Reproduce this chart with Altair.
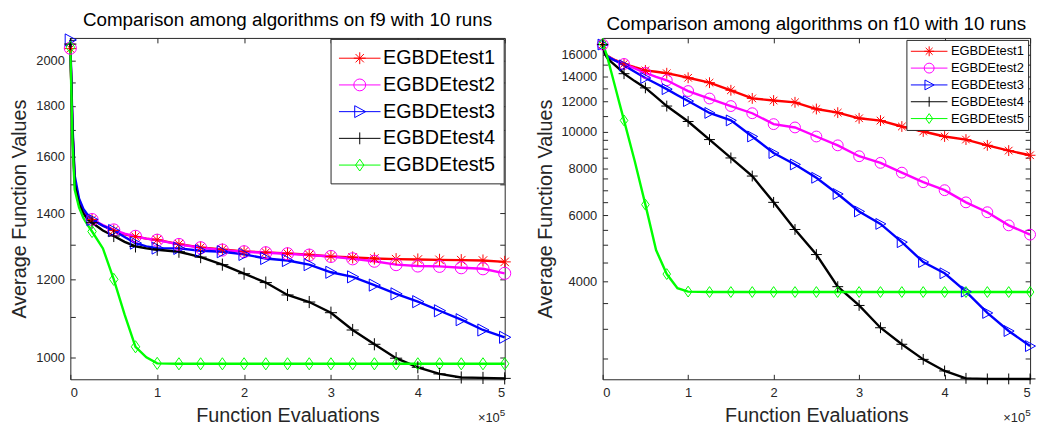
import altair as alt
import pandas as pd

# ---------------- data ----------------
X_EVALS = [0, 2500, 5000, 10000, 15000, 20000, 25000, 37500, 50000, 62500, 75000,
           87500, 100000, 125000, 150000, 175000, 200000, 225000, 250000, 275000,
           300000, 325000, 350000, 375000, 400000, 425000, 450000, 475000, 500000]

SERIES = ["EGBDEtest1", "EGBDEtest2", "EGBDEtest3", "EGBDEtest4", "EGBDEtest5"]
COLORS = ["#FF0000", "#FF00FF", "#0000FF", "#000000", "#00FF00"]

F9_TEST1 = [2058, 1700, 1510, 1440, 1410, 1392, 1380, 1360, 1345, 1333, 1326, 1320, 1316,
            1303, 1293, 1287, 1281, 1278, 1275, 1271, 1266, 1263, 1260, 1258, 1257, 1256,
            1255, 1254, 1250]
F9_TEST2 = [2060, 1700, 1510, 1440, 1410, 1392, 1380, 1362, 1347, 1335, 1327, 1320, 1315,
            1302, 1292, 1285, 1280, 1277, 1274, 1270, 1266, 1259, 1252, 1242, 1238, 1237,
            1233, 1230, 1217]
F9_TEST3 = [2100, 1720, 1530, 1450, 1415, 1395, 1380, 1360, 1345, 1325, 1306, 1296, 1291,
            1290, 1283, 1280, 1272, 1260, 1254, 1242, 1220, 1207, 1184, 1160, 1139, 1115,
            1092, 1066, 1048]
F9_TEST4 = [2080, 1690, 1500, 1430, 1400, 1380, 1370, 1345, 1328, 1310, 1296, 1290, 1286,
            1280, 1264, 1242, 1216, 1191, 1157, 1138, 1110, 1066, 1031, 998, 977, 962,
            954, 953, 952]
F9_TEST5 = [2065, 1650, 1480, 1420, 1385, 1362, 1342, 1290, 1200, 1105, 1025, 1000, 986,
            985, 985, 985, 985, 985, 985, 985, 985, 985, 985, 985, 985, 985, 985, 985, 985]

F10_TEST1 = [17000, 16200, 15900, 15650, 15450, 15280, 15110, 14800, 14520, 14400, 14270,
             14080, 13880, 13470, 12860, 12240, 12080, 11950, 11470, 11220, 10840, 10690,
             10310, 10000, 9700, 9520, 9190, 8900, 8650]
F10_TEST2 = [17000, 16150, 15850, 15600, 15400, 15250, 15100, 14700, 14300, 13950, 13670,
             13220, 12800, 12230, 11680, 11180, 10460, 10250, 9700, 9190, 8600, 8260, 7780,
             7340, 6990, 6490, 6110, 5640, 5330]
F10_TEST3 = [17000, 16150, 15850, 15600, 15400, 15200, 14970, 14400, 13860, 13400, 12950,
             12480, 12040, 11200, 10700, 9700, 8770, 8180, 7540, 6830, 6140, 5690, 5090,
             4510, 4210, 3765, 3305, 2960, 2700]
F10_TEST4 = [17000, 16100, 15700, 15300, 14950, 14600, 14230, 13600, 13050, 12350, 11680,
             11150, 10630, 9520, 8510, 7620, 6490, 5500, 4720, 3880, 3460, 3020, 2730, 2490,
             2320, 2218, 2210, 2210, 2210]
F10_TEST5 = [17100, 16500, 15880, 14400, 13040, 11800, 10700, 8350, 6400, 4850, 4190, 3845,
             3765, 3755, 3755, 3755, 3755, 3755, 3755, 3755, 3755, 3755, 3755, 3755, 3755,
             3755, 3755, 3755, 3755]

F9_YLABELS = [1000, 1200, 1400, 1600, 1800, 2000]
F9_YTICKS = [1000, 1100, 1200, 1300, 1400, 1500, 1600, 1700, 1800, 1900, 2000, 2100]
F10_YLABELS = [4000, 6000, 8000, 10000, 12000, 14000, 16000]
F10_YTICKS = [2500, 3000, 3500, 4000, 4500, 5000, 5500, 6000, 6500, 7000, 7500, 8000, 8500,
              9000, 9500, 10000, 11000, 12000, 13000, 14000, 15000, 16000, 17000]
X_TICKS = [0, 100000, 200000, 300000, 400000, 500000]

FONT = "Liberation Sans"
AX = "#262626"

# data-marker shapes (unit box -1..1)
MARKERS = [
    "M-1,0L1,0M0,-1L0,1M-0.7,-0.7L0.7,0.7M-0.7,0.7L0.7,-0.7",
    "circle",
    "M-0.85,-1L1,0L-0.85,1Z",
    "M-1,0L1,0M0,-1L0,1",
    "M0,-1L0.7,0L0,1L-0.7,0Z",
]


def legend_paths(L, m):
    """Legend symbols: a horizontal line of half-length L with the marker (half-size m)."""
    L = round(L, 3)
    m = round(m, 3)
    d = round(m * 0.7, 3)
    t = round(m * 0.85, 3)
    ln = f"M{-L},0L{L},0"
    return [
        f"{ln}M{-m},0L{m},0M0,{-m}L0,{m}M{-d},{-d}L{d},{d}M{-d},{d}L{d},{-d}",
        f"{ln}M{m},0A{m},{m},0,1,1,{-m},0A{m},{m},0,1,1,{m},0",
        f"{ln}M{-t},{-m}L{m},0L{-t},{m}Z",
        f"{ln}M0,{-m}L0,{m}",
        f"{ln}M0,{-m}L{d},0L0,{m}L{-d},0Z",
    ]


def build_df(values_list):
    rows = []
    for name, vals in zip(SERIES, values_list):
        for x, v in zip(X_EVALS, vals):
            rows.append({"x": x, "v": v, "series": name, "m": x % 25000 == 0})
    return pd.DataFrame(rows)


def panel(df, title, W, H, ydom, ylabels, yticks, msize, leg):
    xs = alt.Scale(domain=[0, 500000], nice=False, zero=False)
    ys = alt.Scale(type="log", domain=ydom, nice=False)
    cs = alt.Scale(domain=SERIES, range=COLORS)
    base = alt.Chart(df)

    main_x = alt.X("x:Q", scale=xs, axis=alt.Axis(
        values=X_TICKS, labelExpr="format(datum.value/100000,'d')", ticks=False,
        domain=False, grid=False, title="Function Evaluations", titleFont=FONT,
        titleFontSize=20, titleFontWeight="normal", titleColor=AX, labelFont=FONT,
        labelFontSize=13, labelColor=AX, labelPadding=7, titlePadding=7))
    main_y = alt.Y("v:Q", scale=ys, axis=alt.Axis(
        values=ylabels, format="d", ticks=False, domain=False, grid=False,
        title="Average Function Values", titleFont=FONT, titleFontSize=20,
        titleFontWeight="normal", titleColor=AX, labelFont=FONT, labelFontSize=13,
        labelColor=AX, labelPadding=6, titlePadding=6))
    lines = base.mark_line(strokeWidth=2.4).encode(
        x=main_x, y=main_y,
        color=alt.Color("series:N", scale=cs, legend=None))

    nx = alt.X("x:Q", scale=xs, axis=None)
    ny = alt.Y("v:Q", scale=ys, axis=None)
    pts = base.transform_filter("datum.m").mark_point(
        filled=False, size=msize, strokeWidth=1, opacity=1).encode(
        x=nx, y=ny,
        color=alt.Color("series:N", scale=cs, legend=None),
        shape=alt.Shape("series:N", scale=alt.Scale(domain=SERIES, range=MARKERS),
                        legend=None))

    # legend: unit symbol box s px, line of length ln_px, marker half-size mk_px
    s, ln_px, mk_px = leg["s"], leg["line"], leg["mk"]
    half = s / 2.0
    sym_off = ln_px / 2.0 - half
    lgd = alt.Legend(title=None, orient="top-right", offset=leg["offset"],
                     padding=leg["pad"], strokeColor=AX, fillColor="white",
                     labelFont=FONT, labelFontSize=leg["font"], labelColor="black",
                     symbolSize=s * s, symbolStrokeWidth=1, rowPadding=leg["row"],
                     symbolOffset=sym_off,
                     labelOffset=ln_px + leg["gap"] - s - sym_off,
                     labelLimit=0, cornerRadius=0)
    legl = base.transform_filter("false").mark_point(
        filled=False, strokeWidth=1, opacity=1).encode(
        x=nx, y=ny,
        color=alt.Color("series:N", scale=cs, legend=lgd),
        shape=alt.Shape("series:N",
                        scale=alt.Scale(domain=SERIES,
                                        range=legend_paths((ln_px / 2.0) / half,
                                                           mk_px / half)),
                        legend=lgd))

    tick_common = dict(labels=False, domain=False, grid=False, title=None, tickSize=5,
                       tickColor=AX, tickWidth=1)
    tick_a = base.transform_filter("false").mark_point().encode(
        x=alt.X("x:Q", scale=xs, axis=alt.Axis(orient="top", offset=-H, values=X_TICKS,
                                               **tick_common)),
        y=alt.Y("v:Q", scale=ys, axis=alt.Axis(orient="right", offset=-W, values=yticks,
                                               **tick_common)))
    tick_b = base.transform_filter("false").mark_point().encode(
        x=alt.X("x:Q", scale=xs, axis=alt.Axis(orient="bottom", offset=-H,
                                               values=X_TICKS, **tick_common)),
        y=alt.Y("v:Q", scale=ys, axis=alt.Axis(orient="left", offset=-W, values=yticks,
                                               **tick_common)))

    ann = pd.DataFrame({"x": [500000], "v": [ydom[0]], "t": ["\u00d710"], "s": ["5"]})
    ann1 = alt.Chart(ann).mark_text(align="right", baseline="alphabetic", dx=-5, dy=43,
                                    fontSize=13, font=FONT, color=AX).encode(
        x=nx, y=ny, text="t:N")
    ann2 = alt.Chart(ann).mark_text(align="left", baseline="alphabetic", dx=-5, dy=37,
                                    fontSize=10, font=FONT, color=AX).encode(
        x=nx, y=ny, text="s:N")

    return alt.layer(lines, pts, legl, tick_a, tick_b, ann1, ann2).resolve_scale(
        color="independent", shape="independent").resolve_axis(
        x="independent", y="independent").properties(
        width=W, height=H,
        title=alt.TitleParams(title, font=FONT, fontSize=19, fontWeight="normal",
                              color="black", offset=2, anchor="middle"))


df9 = build_df([F9_TEST1, F9_TEST2, F9_TEST3, F9_TEST4, F9_TEST5])
df10 = build_df([F10_TEST1, F10_TEST2, F10_TEST3, F10_TEST4, F10_TEST5])

LEG_LEFT = dict(s=22, line=42, mk=6, font=20, pad=8, row=5, offset=1, gap=2)
LEG_RIGHT = dict(s=14, line=37, mk=5, font=13, pad=4, row=2, offset=2, gap=3)

left = panel(df9, "Comparison among algorithms on f9 with 10 runs", 439, 345,
             [950, 2110], F9_YLABELS, F9_YTICKS, 150, LEG_LEFT)
right = panel(df10, "Comparison among algorithms on f10 with 10 runs", 432, 345,
              [2205, 17700], F10_YLABELS, F10_YTICKS, 120, LEG_RIGHT)

chart = alt.hconcat(left, right, spacing=21).properties(
    padding={"left": 1, "top": 0, "right": 0, "bottom": 0}
).configure_view(stroke=AX, strokeWidth=1)

chart.save("out.html", embed_options={"renderer": "svg", "actions": False})
